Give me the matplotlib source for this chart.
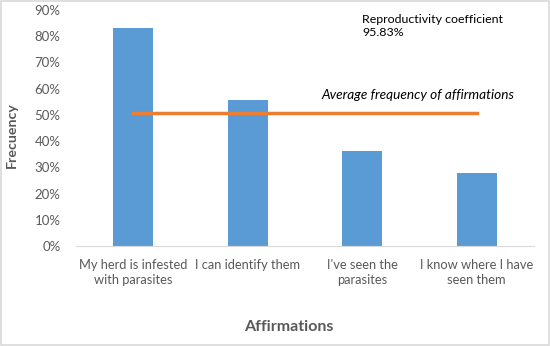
"""
affirmations frequency chart
"""

import matplotlib.pyplot as plt
from matplotlib.ticker import PercentFormatter

# Data
categories = ["My herd is infested\nwith parasites", "I can identify them",
              "I've seen the\nparasites", "I know where I have\nseen them"]
frequency = [83.33, 55.56, 36.11, 27.78]   # percent
average = sum(frequency) / len(frequency)
coefficient = "95.83%"

plt.rcParams['font.family'] = ['Lato', 'DejaVu Sans']
grey = "#595959"

fig = plt.figure(figsize=(5.5, 3.46), dpi=100)
ax = fig.add_axes([0.138, 0.289, 0.833, 0.682])

x = range(len(categories))
ax.bar(x, frequency, width=0.35, color="#5b9bd5", zorder=2)
ax.plot([0, len(categories) - 1], [average, average], color="#ed7d31", lw=2.5, zorder=3)

ax.set_xlim(-0.5, len(categories) - 0.5)
ax.set_ylim(0, 90)
ax.set_yticks(range(0, 91, 10))
ax.yaxis.set_major_formatter(PercentFormatter(decimals=0))
ax.set_xticks(list(x))
ax.set_xticklabels(categories, linespacing=1.35)
ax.tick_params(length=0, colors=grey)
ax.tick_params(axis='y', labelsize=9.5, pad=11)
ax.tick_params(axis='x', labelsize=9.3, pad=9)

for side in ["top", "right", "left"]:
    ax.spines[side].set_visible(False)
ax.spines["bottom"].set_color("#d9d9d9")

ax.set_ylabel("Frecuency", color=grey, fontweight="bold", fontsize=10.2, va="center")
ax.yaxis.set_label_coords(-0.14, 0.47)
ax.set_xlabel("Affirmations", color=grey, fontweight="bold", fontsize=11.5)
ax.xaxis.set_label_coords(0.465, -0.315)

ax.text(0.625, 0.985, "Reproductivity coefficient\n" + coefficient, transform=ax.transAxes,
        fontsize=8.9, va="top", ha="left", color="black", linespacing=1.3)
ax.text(0.535, 0.64, "Average frequency of affirmations", transform=ax.transAxes,
        fontsize=9.8, style="italic", va="center", ha="left", color="black")

# Outer border
fig.patches.append(plt.Rectangle((0.002, 0.003), 0.996, 0.994, transform=fig.transFigure,
                                 fill=False, edgecolor="#d9d9d9", lw=1.2))

fig.savefig("out.png", dpi=100)
